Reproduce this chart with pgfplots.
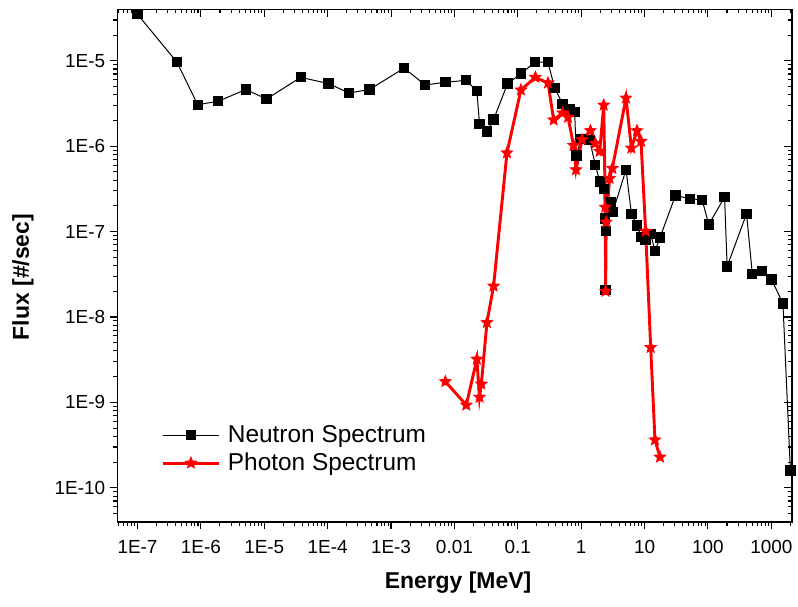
\documentclass[border=0pt]{standalone}
\usepackage{fontspec}
\setmainfont{Liberation Sans}
\usepackage{pgfplots}
\pgfplotsset{compat=1.18}
\pgfdeclareplotmark{fstar}{%
  \pgfpathmoveto{\pgfpointpolar{90}{\pgfplotmarksize}}%
  \pgfpathlineto{\pgfpointpolar{126}{0.45\pgfplotmarksize}}%
  \pgfpathlineto{\pgfpointpolar{162}{\pgfplotmarksize}}%
  \pgfpathlineto{\pgfpointpolar{198}{0.45\pgfplotmarksize}}%
  \pgfpathlineto{\pgfpointpolar{234}{\pgfplotmarksize}}%
  \pgfpathlineto{\pgfpointpolar{270}{0.45\pgfplotmarksize}}%
  \pgfpathlineto{\pgfpointpolar{306}{\pgfplotmarksize}}%
  \pgfpathlineto{\pgfpointpolar{342}{0.45\pgfplotmarksize}}%
  \pgfpathlineto{\pgfpointpolar{18}{\pgfplotmarksize}}%
  \pgfpathlineto{\pgfpointpolar{54}{0.45\pgfplotmarksize}}%
  \pgfpathclose
  \pgfusepathqfill
}
\pgfplotsset{
  every axis/.append style={
    width=505.8pt, height=384.3pt, scale only axis,
    xmin=4.8e-8, xmax=2100, ymin=4e-11, ymax=4e-5,
    xtick={1e-7,1e-6,1e-5,1e-4,1e-3,1e-2,1e-1,1,10,100,1000},
    ytick={1e-10,1e-9,1e-8,1e-7,1e-6,1e-5},
    minor xtick={5e-8,6e-8,7e-8,8e-8,9e-8,
      2e-7,3e-7,4e-7,5e-7,6e-7,7e-7,8e-7,9e-7,
      2e-6,3e-6,4e-6,5e-6,6e-6,7e-6,8e-6,9e-6,
      2e-5,3e-5,4e-5,5e-5,6e-5,7e-5,8e-5,9e-5,
      2e-4,3e-4,4e-4,5e-4,6e-4,7e-4,8e-4,9e-4,
      2e-3,3e-3,4e-3,5e-3,6e-3,7e-3,8e-3,9e-3,
      0.02,0.03,0.04,0.05,0.06,0.07,0.08,0.09,
      0.2,0.3,0.4,0.5,0.6,0.7,0.8,0.9,
      2,3,4,5,6,7,8,9,
      20,30,40,50,60,70,80,90,
      200,300,400,500,600,700,800,900,2000},
    minor ytick={5e-11,6e-11,7e-11,8e-11,9e-11,
      2e-10,3e-10,4e-10,5e-10,6e-10,7e-10,8e-10,9e-10,
      2e-9,3e-9,4e-9,5e-9,6e-9,7e-9,8e-9,9e-9,
      2e-8,3e-8,4e-8,5e-8,6e-8,7e-8,8e-8,9e-8,
      2e-7,3e-7,4e-7,5e-7,6e-7,7e-7,8e-7,9e-7,
      2e-6,3e-6,4e-6,5e-6,6e-6,7e-6,8e-6,9e-6,
      2e-5,3e-5},
    major tick length=5.6pt, minor tick length=3pt,
    axis line style={line width=1.2pt},
    tick style={line width=0.8pt, black},
  }
}
\begin{document}
\begin{tikzpicture}
\begin{loglogaxis}[
  xtick pos=left, ytick pos=left, tick align=outside,
  clip=false,
  xticklabels={1E-7,1E-6,1E-5,1E-4,1E-3,0.01,0.1,1,10,100,1000},
  yticklabels={1E-10,1E-9,1E-8,1E-7,1E-6,1E-5},
  ticklabel style={font=\fontsize{14.2pt}{16pt}\selectfont},
  xticklabel style={yshift=-5pt},
  xlabel={Energy [MeV]},
  xlabel style={at={(axis description cs:0.5052,-0.1196)}, anchor=center, font=\fontsize{17.2pt}{20pt}\selectfont\bfseries},
  ylabel={Flux [\#/sec]},
  ylabel style={at={(axis description cs:-0.1398,0.4776)}, anchor=center, font=\fontsize{17.2pt}{20pt}\selectfont\bfseries},
  legend style={at={(axis description cs:0.0658,0.1965)}, anchor=north west, draw=none, fill=none,
    inner sep=0pt, outer sep=0pt, font=\fontsize{18.3pt}{21pt}\selectfont,
    row sep=0pt, column sep=5.8pt,
    nodes={inner sep=0pt, minimum height=21pt}},
  legend cell align=left,
  legend image code/.code={\draw[mark repeat=2,mark phase=2,#1] plot coordinates {(0pt,0pt) (20.85pt,0pt) (41.7pt,0pt)};},
]
\addplot[black, line width=0.75pt, mark=square*, mark size=3.5pt, mark options={solid, fill=black}] table {
x y
1e-7 3.5e-5
4.2e-7 9.6e-6
8.9e-7 3.06e-6
1.87e-6 3.35e-6
5.1e-6 4.6e-6
1.09e-5 3.57e-6
3.76e-5 6.4e-6
1.03e-4 5.4e-6
2.18e-4 4.2e-6
4.56e-4 4.6e-6
1.61e-3 8.2e-6
3.46e-3 5.2e-6
7.2e-3 5.6e-6
0.0154 5.9e-6
0.0226 4.4e-6
0.0249 1.82e-6
0.0326 1.48e-6
0.0415 2.05e-6
0.069 5.4e-6
0.1136 7.1e-6
0.189 9.7e-6
0.30 9.6e-6
0.381 4.8e-6
0.51 3.12e-6
0.658 2.73e-6
0.789 2.49e-6
0.84 7.8e-7
1.0 1.22e-6
1.36 1.18e-6
1.67 6.05e-7
1.96 3.86e-7
2.27 3.17e-7
2.40 1.42e-7
2.43 2.06e-8
2.48 1.01e-7
2.9 2.21e-7
3.15 1.69e-7
5.1 5.3e-7
6.2 1.62e-7
7.6 1.18e-7
8.9 8.6e-8
10.4 7.9e-8
12.5 9.4e-8
14.6 5.9e-8
17.5 8.5e-8
30.8 2.65e-7
51.8 2.42e-7
81 2.36e-7
103 1.21e-7
183 2.53e-7
201 3.9e-8
407 1.62e-7
501 3.2e-8
721 3.46e-8
1010 2.74e-8
1525 1.44e-8
2000 1.59e-10
};
\addlegendentry{Neutron Spectrum}
\addplot[red, line width=2.2pt, mark=fstar, mark size=5.3pt, mark options={solid, fill=red}] table {
x y
7.2e-3 1.75e-9
0.0154 9.3e-10
0.0226 3.21e-9
0.0249 1.15e-9
0.0266 1.64e-9
0.0326 8.6e-9
0.0415 2.3e-8
0.0675 8.35e-7
0.112 4.55e-6
0.189 6.4e-6
0.30 5.5e-6
0.368 2.03e-6
0.51 2.45e-6
0.62 2.18e-6
0.76 1.02e-6
0.83 5.3e-7
1.03 1.19e-6
1.40 1.52e-6
1.67 1.08e-6
1.96 8.7e-7
2.27 3.03e-6
2.40 1.93e-7
2.43 2.0e-8
2.48 1.29e-7
2.81 4.2e-7
3.1 5.5e-7
5.1 3.66e-6
6.2 9.5e-7
7.6 1.52e-6
8.8 1.14e-6
10.4 1.01e-7
12.5 4.4e-9
14.6 3.64e-10
17.5 2.29e-10
};
\addlegendentry{Photon Spectrum}
\end{loglogaxis}
\begin{loglogaxis}[
  xtick pos=right, ytick pos=right, tick align=inside,
  xticklabels={}, yticklabels={},
]
\end{loglogaxis}
\pgfresetboundingbox
\path[use as bounding box] (-87.98pt,-63.2pt) rectangle (510.5pt,391.3pt);
\end{tikzpicture}
\end{document}
